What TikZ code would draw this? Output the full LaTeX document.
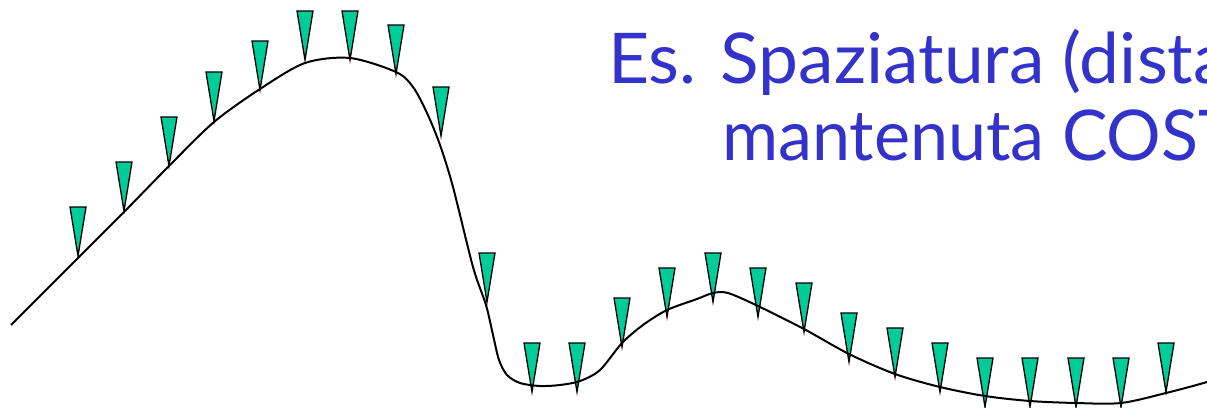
\documentclass[tikz,border=0pt]{standalone}
\usepackage{fontspec}
\newfontfamily\comic{Lato}
\definecolor{titleblue}{RGB}{51,51,204}
\definecolor{markergreen}{RGB}{0,204,153}
\newlength\wA
\newlength\wB
\tikzset{
  curveline/.style={line width=2pt, black, line join=round},
  markertri/.style={fill=markergreen, draw=black, line width=1.3pt, line join=miter},
  titletext/.style={text=titleblue, inner sep=0pt, anchor=base west, font=\comic\fontsize{70}{84}\selectfont}
}
\begin{document}
\settowidth\wA{\comic\fontsize{70}{84}\selectfont Es. Spaziatura (dist}%
\settowidth\wB{\comic\fontsize{70}{84}\selectfont mantenuta COS}%
\pgfmathsetmacro\sA{585pt/\wA}%
\pgfmathsetmacro\sB{476pt/\wB}%
\begin{tikzpicture}[x=1pt,y=-1pt]
\useasboundingbox (0,0) rectangle (1207,407);
\clip (0,0) rectangle (1207,407);
\node[titletext] (line1) at (608,83) {\scalebox{\sA}[1]{Es. Spaziatura (dista}};
\node[titletext] (line2) at (722,160) {\scalebox{\sB}[1]{mantenuta COST}};
\foreach \x/\t in {78/207,124/162,169/117,214/72,260/41,305/11,350/11,396/25,441/87,487/253,532/343,577/343,622/298,667/268,713/253,758/268,804/283,849/313,895/328,940/343,985/358,1030/358,1076/358,1121/358,1166/343}
  \draw[markertri] (\x-8,\t) -- (\x+8,\t) -- (\x,\t+49) -- cycle;
\draw[curveline] plot[smooth, tension=0.5] coordinates {(11,325) (78,258) (124,212) (169,166) (214,122) (260,89) (305,63) (350,58) (396,72) (413,87) (427,113) (440,145) (453,187) (473,267) (486,305) (493,335) (499,360) (507,375) (520,383) (540,386) (560,385) (580,381) (600,370) (622,343) (643,325) (667,310) (697,299) (713,293) (728,293) (758,306) (804,329) (849,354) (895,374) (940,387) (985,396) (1030,401) (1076,403) (1121,403) (1166,393) (1207,382) (1230,374)};
\end{tikzpicture}
\end{document}
